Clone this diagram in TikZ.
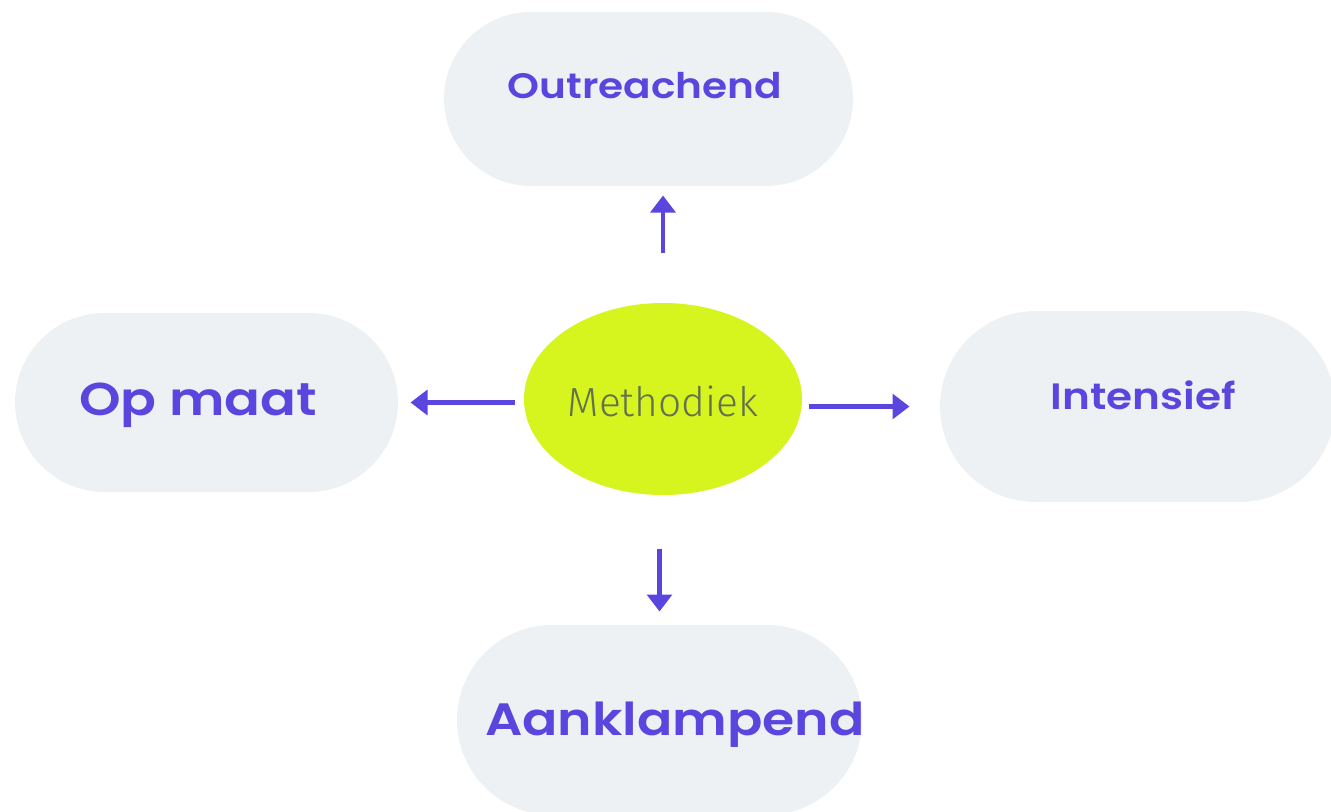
\documentclass[tikz,border=0pt]{standalone}
\usepackage{fontspec}
\setmainfont{Poppins}
\newfontfamily\pillfont{Poppins}[FakeStretch=1.15, BoldFont=* SemiBold]
\newfontfamily\lightfont{Fira Sans}[UprightFont=* Light]
\usetikzlibrary{arrows.meta,shapes.misc,shapes.geometric}

\definecolor{pillgray}{RGB}{238,241,244}
\definecolor{methlime}{RGB}{214,245,30}
\definecolor{linkpurple}{RGB}{90,70,222}
\definecolor{methgray}{RGB}{100,112,80}

\tikzset{every picture/.style={line width=0.75pt}}
\tikzset{
  pill/.style={rounded rectangle, fill=pillgray, inner sep=0pt},
  pilltext/.style={anchor=base, text=linkpurple, font=\pillfont\bfseries},
  link/.style={draw=linkpurple, line width=3.6pt, -{Triangle[length=12.75pt,width=18.5pt]}}
}

\begin{document}
\begin{tikzpicture}[x=0.75pt,y=0.75pt,yscale=-1,xscale=1]
\useasboundingbox (0,0) rectangle (1331,811);

%Shape: pills
\node [pill, minimum width=306.75pt, minimum height=130.5pt] (outreach) at (648.5,99) {};
\node [pill, minimum width=287.25pt, minimum height=134.25pt] (opmaat) at (206.5,402.5) {};
\node [pill, minimum width=296.25pt, minimum height=143.25pt] (intensief) at (1137.5,406.5) {};
\node [pill, minimum width=303.75pt, minimum height=142.5pt] (aanklamp) at (659.5,720) {};

%Shape: centre ellipse
\node [ellipse, fill=methlime, minimum width=208.5pt, minimum height=144pt, inner sep=0pt] (meth) at (663,399) {};

%Texts
\node [pilltext, font=\pillfont\bfseries\fontsize{26.5}{30}\selectfont] (outreach-t) at (645,98) {Outreachend};
\node [pilltext, font=\pillfont\bfseries\fontsize{34.5}{40}\selectfont] (opmaat-t) at (198,415) {Op maat};
\node [pilltext, font=\pillfont\bfseries\fontsize{27.5}{30}\selectfont] (intensief-t) at (1143,409) {Intensief};
\node [pilltext, font=\pillfont\bfseries\fontsize{34}{40}\selectfont] (aanklamp-t) at (675,735) {Aanklampend};
\node [anchor=base, text=methgray, font=\lightfont\fontsize{30.5}{34}\selectfont] (meth-t) at (663,416) {Methodiek};

%Arrows
\draw [link, shorten <=37.5pt, shorten >=6.75pt] (meth.north) -- (meth.north |- outreach.south);
\draw [link, shorten <=39.75pt, shorten >=9.75pt] (aanklamp.north |- meth.south) -- (aanklamp.north);
\draw [link, shorten <=6.75pt, shorten >=9pt] (meth.west |- opmaat.east) -- (opmaat.east);
\draw [link, shorten <=4.5pt, shorten >=22.5pt] (meth.east |- intensief.west) -- (intensief.west);

\end{tikzpicture}
\end{document}
